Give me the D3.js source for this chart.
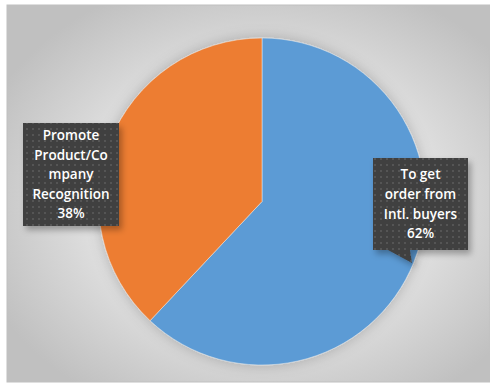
<!DOCTYPE html>
<html>
<head>
<meta charset="utf-8">
<script src="https://cdn.jsdelivr.net/npm/d3@7/dist/d3.min.js"></script>
<style>
  html, body { margin: 0; padding: 0; background: #ffffff; }
  svg { display: block; }
</style>
</head>
<body>
<svg id="chart" width="490" height="383"></svg>
<script>
// Reasons for participating, share of responses
const categories = ["To get order from Intl. buyers", "Promote Product/Company Recognition"];
const values = [62, 38];
const colors = ["#5b9bd5", "#ed7d31"];
// Label lines as wrapped inside each callout
const labelLines = [
  ["To get", "order from", "Intl. buyers", "62%"],
  ["Promote", "Product/Co", "mpany", "Recognition", "38%"]
];

const svg = d3.select("#chart");
const frame = { x: 7, y: 5, w: 483, h: 377 };
const cx = 262, cy = 201.5, r = 163.5;

const defs = svg.append("defs");

// chart area background: soft radial grey
const bg = defs.append("radialGradient").attr("id", "bgGrad")
  .attr("cx", "53%").attr("cy", "52%").attr("r", "62%");
bg.append("stop").attr("offset", "0%").attr("stop-color", "#ebebeb");
bg.append("stop").attr("offset", "55%").attr("stop-color", "#e1e1e1");
bg.append("stop").attr("offset", "100%").attr("stop-color", "#c0c0c0");

// soft halo under the pie
const pieShadow = defs.append("filter").attr("id", "pieShadow")
  .attr("x", "-20%").attr("y", "-20%").attr("width", "140%").attr("height", "140%");
pieShadow.append("feDropShadow").attr("dx", 0).attr("dy", 0)
  .attr("stdDeviation", 7).attr("flood-color", "#000").attr("flood-opacity", 0.22);

// callout shadow
const boxShadow = defs.append("filter").attr("id", "boxShadow")
  .attr("x", "-20%").attr("y", "-20%").attr("width", "150%").attr("height", "150%");
boxShadow.append("feDropShadow").attr("dx", 3).attr("dy", 4)
  .attr("stdDeviation", 3).attr("flood-color", "#000").attr("flood-opacity", 0.3);

// dotted fill of the callouts
const pat = defs.append("pattern").attr("id", "dots")
  .attr("width", 6).attr("height", 6).attr("patternUnits", "userSpaceOnUse");
pat.append("rect").attr("width", 6).attr("height", 6).attr("fill", "#3f3f3f");
pat.append("rect").attr("x", 2).attr("y", 2).attr("width", 2).attr("height", 2).attr("fill", "#545454");

// frame
svg.append("rect")
  .attr("x", frame.x).attr("y", frame.y)
  .attr("width", frame.w).attr("height", frame.h)
  .attr("fill", "url(#bgGrad)")
  .attr("stroke", "#c0c0c0").attr("stroke-width", 1);

// pie
const pie = d3.pie().sort(null).value(d => d);
const arc = d3.arc().innerRadius(0).outerRadius(r);
const arcs = pie(values);

const g = svg.append("g").attr("transform", `translate(${cx},${cy})`);
g.append("g").attr("filter", "url(#pieShadow)")
  .selectAll("path").data(arcs).join("path")
  .attr("d", arc)
  .attr("fill", (d, i) => colors[i])
  .attr("stroke", "#eeeeee").attr("stroke-width", 0.5);

// callouts with optional pointer tail
const boxes = [
  { x: 373, y: 158, w: 95, h: 92, tail: [[388, 250], [412, 263], [410, 250]] },
  { x: 23, y: 123, w: 96, h: 103, tail: null }
];

const fontFamily = "'Open Sans', 'Liberation Sans', sans-serif";
const lineH = 19.6;

boxes.forEach((b, i) => {
  const grp = svg.append("g");
  let p = `M${b.x},${b.y} H${b.x + b.w} V${b.y + b.h}`;
  if (b.tail) {
    p += ` H${b.tail[2][0]} L${b.tail[1][0]},${b.tail[1][1]} L${b.tail[0][0]},${b.tail[0][1]}`;
  }
  p += ` H${b.x} Z`;
  grp.append("path").attr("d", p)
    .attr("fill", "url(#dots)")
    .attr("filter", "url(#boxShadow)");

  const lines = labelLines[i];
  const midX = b.x + b.w / 2;
  const startY = b.y + b.h / 2 - (lines.length - 1) * lineH / 2;
  const t = grp.append("text")
    .attr("text-anchor", "middle")
    .attr("font-family", fontFamily)
    .attr("font-weight", 600)
    .attr("font-size", 13.5)
    .attr("fill", "#ffffff");
  lines.forEach((ln, k) => {
    t.append("tspan").attr("x", midX).attr("y", startY + k * lineH)
      .attr("dy", "0.35em").text(ln);
  });
});
</script>
</body>
</html>
